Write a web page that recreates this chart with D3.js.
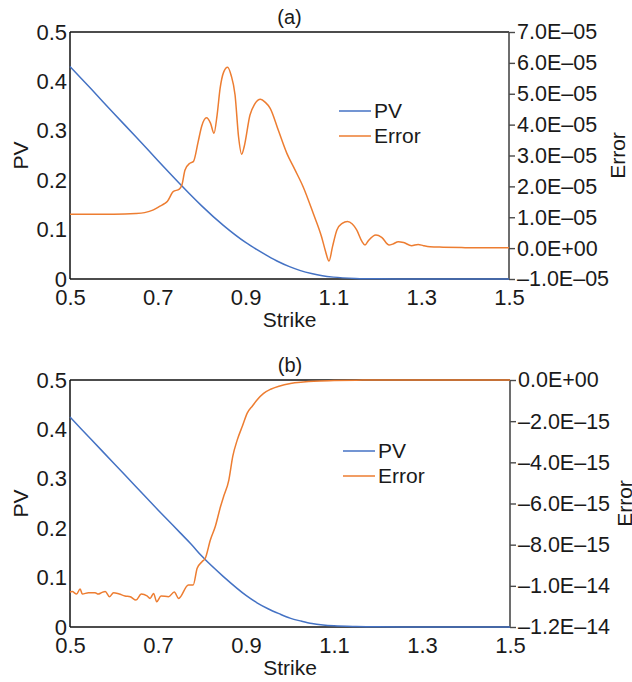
<!DOCTYPE html>
<html>
<head>
<meta charset="utf-8">
<script src="https://cdn.jsdelivr.net/npm/d3@7"></script>
<style>
  body { margin: 0; background: #fff; }
  svg text { font-family: "Liberation Sans", Arial, sans-serif; fill: #1a1a1a; }
</style>
</head>
<body>
<svg id="chart" width="632" height="682"></svg>
<script>
// ----- data -----
const strikeTicks = [0.5, 0.7, 0.9, 1.1, 1.3, 1.5];
const pvTicks = [0, 0.1, 0.2, 0.3, 0.4, 0.5];
const errTicksA = [-1e-5, 0, 1e-5, 2e-5, 3e-5, 4e-5, 5e-5, 6e-5, 7e-5];
const errTicksB = [-1.2e-14, -1.0e-14, -8e-15, -6e-15, -4e-15, -2e-15, 0];
const seriesNames = ["PV", "Error"];

// panel (a): [strike, PV]
const pvA = [
  [0.50, 0.430], [0.55, 0.383], [0.60, 0.335], [0.65, 0.288], [0.70, 0.240],
  [0.75, 0.193], [0.775, 0.170], [0.80, 0.148], [0.85, 0.108], [0.90, 0.074],
  [0.925, 0.060], [0.95, 0.047], [0.975, 0.035], [1.00, 0.025], [1.025, 0.017],
  [1.05, 0.011], [1.075, 0.0065], [1.10, 0.0038], [1.15, 0.0012], [1.20, 0.0004],
  [1.30, 0.0001], [1.40, 0], [1.50, 0]
];
// panel (a): [strike, error x 1e-5]
const errA = [
  [0.50, 1.10], [0.55, 1.10], [0.60, 1.10], [0.65, 1.12], [0.67, 1.15], [0.69, 1.24],
  [0.705, 1.36], [0.716, 1.45], [0.722, 1.52], [0.735, 1.83], [0.749, 1.91], [0.755, 2.05],
  [0.762, 2.53], [0.773, 2.75], [0.781, 2.80], [0.792, 3.45], [0.800, 3.95], [0.811, 4.22],
  [0.820, 4.05], [0.828, 3.72], [0.835, 4.30], [0.842, 5.18], [0.850, 5.70], [0.859, 5.86],
  [0.867, 5.60], [0.876, 4.96], [0.884, 3.60], [0.891, 3.04], [0.897, 3.30], [0.910, 4.31],
  [0.920, 4.65], [0.934, 4.82], [0.945, 4.72], [0.956, 4.53], [0.975, 3.80], [0.994, 3.07],
  [1.012, 2.55], [1.031, 1.99], [1.054, 1.13], [1.073, 0.37], [1.082, -0.10], [1.090, -0.42],
  [1.098, 0.05], [1.108, 0.59], [1.120, 0.80], [1.132, 0.86], [1.143, 0.78], [1.153, 0.59],
  [1.165, 0.22], [1.172, 0.10], [1.180, 0.25], [1.197, 0.425], [1.210, 0.35], [1.227, 0.10],
  [1.235, 0.13], [1.248, 0.21], [1.260, 0.18], [1.278, 0.08], [1.293, 0.12], [1.305, 0.08],
  [1.320, 0.045], [1.35, 0.03], [1.40, 0.015], [1.45, 0.01], [1.50, 0.01]
];

// panel (b): [strike, PV]
const pvB = [
  [0.50, 0.425], [0.55, 0.378], [0.60, 0.331], [0.65, 0.284], [0.70, 0.237],
  [0.75, 0.191], [0.775, 0.168], [0.80, 0.143], [0.85, 0.101], [0.90, 0.064],
  [0.925, 0.049], [0.95, 0.037], [0.975, 0.027], [1.00, 0.018], [1.025, 0.012],
  [1.05, 0.007], [1.075, 0.0042], [1.10, 0.0025], [1.15, 0.001], [1.20, 0.0004],
  [1.30, 0.0001], [1.40, 0], [1.50, 0]
];
// panel (b): [strike, error x 1e-15]
const errB = [
  [0.500, -10.30], [0.505, -10.28], [0.515, -10.40], [0.523, -10.15], [0.528, -10.40],
  [0.542, -10.33], [0.557, -10.33], [0.564, -10.40], [0.572, -10.33], [0.580, -10.27],
  [0.590, -10.53], [0.599, -10.33], [0.612, -10.40], [0.625, -10.49], [0.637, -10.53],
  [0.650, -10.69], [0.662, -10.40], [0.675, -10.49], [0.682, -10.61], [0.690, -10.37],
  [0.697, -10.77], [0.707, -10.49], [0.724, -10.53], [0.737, -10.30], [0.747, -10.61],
  [0.769, -9.96], [0.780, -9.96], [0.789, -9.15], [0.800, -8.83], [0.8075, -8.66],
  [0.819, -7.77], [0.830, -7.13], [0.842, -6.16], [0.849, -5.67], [0.861, -4.86],
  [0.870, -3.70], [0.880, -2.92], [0.8925, -2.20], [0.9025, -1.62], [0.915, -1.25],
  [0.925, -0.97], [0.940, -0.65], [0.956, -0.45], [0.975, -0.30], [1.001, -0.17],
  [1.030, -0.10], [1.054, -0.06], [1.10, -0.03], [1.15, -0.01], [1.20, 0], [1.50, 0]
];

const colors = { PV: "#4472C4", Error: "#ED7D31" };

// "7.0E–05" style labels
const sci = function (v) {
  if (Math.abs(v) < 1e-30) return "0.0E+00";
  let [m, ex] = v.toExponential(1).split("e");
  let sign = ex[0] === "-" ? "\u2013" : "+";
  let n = String(Math.abs(+ex)).padStart(2, "0");
  return m.replace("-", "\u2013") + "E" + sign + n;
};

const drawPanel = function (svg, cfg) {
  const x = d3.scaleLinear().domain([0.5, 1.5]).range([cfg.left, cfg.right]);
  const yPV = d3.scaleLinear().domain([0, 0.5]).range([cfg.bottom, cfg.top]);
  const yErr = d3.scaleLinear().domain(cfg.errDomain).range([cfg.bottom, cfg.top]);

  const g = svg.append("g");

  // x axis labels
  g.append("g")
    .attr("transform", `translate(0,${cfg.bottom})`)
    .call(d3.axisBottom(x).tickValues(strikeTicks).tickSize(0).tickPadding(10).tickFormat(d3.format(".1f")))
    .call(a => a.select(".domain").remove())
    .selectAll("text").style("font-size", "22px").style("font-family", null);

  // left PV axis labels
  g.append("g")
    .attr("transform", `translate(${cfg.left},0)`)
    .call(d3.axisLeft(yPV).tickValues(pvTicks).tickSize(0).tickPadding(3).tickFormat(d => d === 0 ? "0" : d3.format(".1f")(d)))
    .call(a => a.select(".domain").remove())
    .selectAll("text").style("font-size", "22px").style("font-family", null);

  // right error axis
  const right = g.append("g")
    .attr("transform", `translate(${cfg.right},0)`)
    .call(d3.axisRight(yErr).tickValues(cfg.errTicks).tickSize(6).tickSizeOuter(0).tickPadding(2).tickFormat(sci));
  right.select(".domain").remove();
  right.selectAll(".tick line").attr("stroke", "#4a4a4a").attr("stroke-width", 1.4);
  right.selectAll("text").style("font-size", "21.5px").style("font-family", null);

  // frame
  g.append("line").attr("x1", cfg.left).attr("x2", cfg.right).attr("y1", cfg.top).attr("y2", cfg.top)
    .attr("stroke", "#111").attr("stroke-width", 1.5);
  g.append("line").attr("x1", cfg.left).attr("x2", cfg.right).attr("y1", cfg.bottom).attr("y2", cfg.bottom)
    .attr("stroke", "#111").attr("stroke-width", 1.6);
  g.append("line").attr("x1", cfg.left).attr("x2", cfg.left).attr("y1", cfg.top).attr("y2", cfg.bottom)
    .attr("stroke", "#111").attr("stroke-width", 1.5);
  g.append("line").attr("x1", cfg.right).attr("x2", cfg.right).attr("y1", cfg.top).attr("y2", cfg.bottom)
    .attr("stroke", "#4a4a4a").attr("stroke-width", 1.6);

  // series
  const linePV = d3.line().x(d => x(d[0])).y(d => yPV(d[1])).curve(d3.curveMonotoneX);
  const lineErr = d3.line().x(d => x(d[0])).y(d => yErr(d[1] * cfg.errUnit)).curve(d3.curveMonotoneX);

  g.append("path").datum(cfg.pv).attr("d", linePV)
    .attr("fill", "none").attr("stroke", colors.PV).attr("stroke-width", 1.5);
  g.append("path").datum(cfg.err).attr("d", lineErr)
    .attr("fill", "none").attr("stroke", colors.Error).attr("stroke-width", 1.5);

  // legend
  const leg = g.selectAll("g.legend")
    .data(seriesNames)
    .join("g")
    .attr("class", "legend")
    .attr("transform", (d, i) => `translate(${cfg.legendX},${cfg.legendY + i * 25})`);
  leg.append("line").attr("x1", 0).attr("x2", 32).attr("y1", 0).attr("y2", 0)
    .attr("stroke", d => colors[d]).attr("stroke-width", 1.5);
  leg.append("text").attr("x", 35).attr("y", 0).attr("dy", "0.35em")
    .style("font-size", "21px").text(d => d);

  // titles
  g.append("text").attr("x", (cfg.left + cfg.right) / 2).attr("y", cfg.tagY)
    .attr("text-anchor", "middle").style("font-size", "20px").text(cfg.tag);
  g.append("text").attr("x", (cfg.left + cfg.right) / 2).attr("y", cfg.strikeY)
    .attr("text-anchor", "middle").style("font-size", "21px").text("Strike");
  g.append("text")
    .attr("transform", `translate(28,${(cfg.top + cfg.bottom) / 2}) rotate(-90)`)
    .attr("text-anchor", "middle").style("font-size", "21px").text("PV");
  g.append("text")
    .attr("transform", `translate(${cfg.errorLabelX},${(cfg.top + cfg.bottom) / 2}) rotate(-90)`)
    .attr("text-anchor", "middle").style("font-size", "21px").text("Error");
};

const svg = d3.select("svg#chart");

drawPanel(svg, {
  tag: "(a)", top: 32, bottom: 279, left: 70, right: 509,
  pv: pvA, err: errA, errUnit: 1e-5, errDomain: [-1e-5, 7e-5], errTicks: errTicksA,
  legendX: 339, legendY: 111, errorLabelX: 625, tagY: 24, strikeY: 327
});

drawPanel(svg, {
  tag: "(b)", top: 380, bottom: 627, left: 70, right: 510,
  pv: pvB, err: errB, errUnit: 1e-15, errDomain: [-1.2e-14, 0], errTicks: errTicksB,
  legendX: 343, legendY: 451, errorLabelX: 632, tagY: 372, strikeY: 675
});
</script>
</body>
</html>
